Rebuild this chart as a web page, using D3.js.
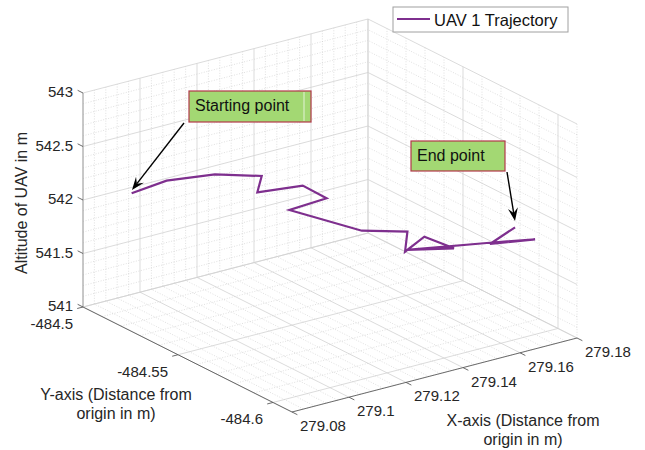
<!DOCTYPE html>
<html>
<head>
<meta charset="utf-8">
<script src="https://cdn.jsdelivr.net/npm/d3@7"></script>
<style>
  html, body { margin: 0; padding: 0; background: #fff; }
  svg { display: block; font-family: "Liberation Sans", Arial, Helvetica, sans-serif; }
</style>
</head>
<body>
<svg id="chart" width="645" height="450"></svg>
<script>
// UAV 1 trajectory samples (metres)
const trajX = [279.0860, 279.0938, 279.1046, 279.1151, 279.1141, 279.1243, 279.1296, 279.1213, 279.1375,
               279.1477, 279.1472, 279.1515, 279.1581, 279.1476, 279.1655, 279.1763, 279.1662, 279.1718];
const trajY = [-484.5166, -484.5233, -484.5325, -484.5414, -484.5406, -484.5492, -484.5538, -484.5467, -484.5605,
               -484.5692, -484.5687, -484.5724, -484.5781, -484.5691, -484.5843, -484.5935, -484.5849, -484.5897];
const trajZ = [542.170, 542.293, 542.360, 542.351, 542.198, 542.267, 542.153, 542.037, 541.855,
               541.853, 541.665, 541.809, 541.705, 541.682, 541.759, 541.801, 541.750, 541.910];

// axis limits and ticks
const xLim = [279.08, 279.18];
const yLim = [-484.61, -484.5];
const zLim = [541, 543];
const xTicks = [279.08, 279.1, 279.12, 279.14, 279.16, 279.18];
const yTicks = [-484.6, -484.55, -484.5];
const zTicks = [541, 541.5, 542, 542.5, 543];
const xTickLabels = ["279.08", "279.1", "279.12", "279.14", "279.16", "279.18"];
const yTickLabels = ["-484.6", "-484.55", "-484.5"];
const zTickLabels = ["541", "541.5", "542", "542.5", "543"];
const xMinorStep = 0.004, yMinorStep = 0.01, zMinorStep = 0.1;

const seriesName = "UAV 1 Trajectory";
const xTitle = ["X-axis (Distance from", "origin in m)"];
const yTitle = ["Y-axis (Distance from", "origin in m)"];
const zTitle = "Altitude of UAV in m";
const startNote = "Starting point";
const endNote = "End point";

const svg = d3.select("#chart");

// normalised box coordinates
const u = d3.scaleLinear().domain(xLim).range([0, 1]);
const v = d3.scaleLinear().domain(yLim).range([0, 1]);
const w = d3.scaleLinear().domain(zLim).range([0, 1]);

// oblique view: screen position of the (xmin, ymin, zmin) corner and unit box edges
const O = [292, 412], EX = [285, -74], EY = [-209, -105], EZ = [0, -214];
function P(a, b, c) { // a,b,c in [0,1]
  return [O[0] + EX[0] * a + EY[0] * b + EZ[0] * c,
          O[1] + EX[1] * a + EY[1] * b + EZ[1] * c];
}
const proj = (x, y, z) => P(u(x), v(y), w(z));

function steps(lim, step) {
  const n = Math.round((lim[1] - lim[0]) / step);
  return d3.range(n + 1).map(i => +(lim[0] + i * step).toFixed(6));
}
const isMajor = (val, ticks) => ticks.some(t => Math.abs(t - val) < 1e-6);

const gridG = svg.append("g");
function seg(g, a, b, major) {
  g.append("line")
    .attr("x1", a[0]).attr("y1", a[1]).attr("x2", b[0]).attr("y2", b[1])
    .attr("stroke", major ? "#d2d2d2" : "#cbcbcb")
    .attr("stroke-width", major ? 0.8 : 0.6)
    .attr("stroke-dasharray", major ? null : "1,1.6");
}

const xs = steps(xLim, xMinorStep), ys = steps(yLim, yMinorStep), zs = steps(zLim, zMinorStep);
const minorG = gridG.append("g"), majorG = gridG.append("g");

// floor (z = zmin)
xs.forEach(x => { const M = isMajor(x, xTicks); seg(M ? majorG : minorG, P(u(x), 0, 0), P(u(x), 1, 0), M); });
ys.forEach(y => { const M = isMajor(y, yTicks); seg(M ? majorG : minorG, P(0, v(y), 0), P(1, v(y), 0), M); });
// back-left wall (y = ymax)
xs.forEach(x => { const M = isMajor(x, xTicks); seg(M ? majorG : minorG, P(u(x), 1, 0), P(u(x), 1, 1), M); });
zs.forEach(z => { const M = isMajor(z, zTicks); seg(M ? majorG : minorG, P(0, 1, w(z)), P(1, 1, w(z)), M); });
// back-right wall (x = xmax)
ys.forEach(y => { const M = isMajor(y, yTicks); seg(M ? majorG : minorG, P(1, v(y), 0), P(1, v(y), 1), M); });
zs.forEach(z => { const M = isMajor(z, zTicks); seg(M ? majorG : minorG, P(1, 0, w(z)), P(1, 1, w(z)), M); });

// axis lines
const axG = svg.append("g").attr("stroke-width", 0.9).attr("fill", "none");
function axisLine(a, b, col) {
  axG.append("line").attr("x1", a[0]).attr("y1", a[1]).attr("x2", b[0]).attr("y2", b[1]).attr("stroke", col);
}
axisLine(P(0, 0, 0), P(1, 0, 0), "#5a5a5a");   // x axis
axisLine(P(0, 0, 0), P(0, 1, 0), "#5a5a5a");   // y axis
axisLine(P(0, 1, 0), P(0, 1, 1), "#9a9a9a");   // z axis

const unit = d => { const L = Math.hypot(d[0], d[1]); return [d[0] / L, d[1] / L]; };
const tickLen = 6;
const txtCol = "#262626";
const labG = svg.append("g").attr("fill", txtCol).attr("font-size", 15);

// x ticks
const xOut = unit([-EY[0], -EY[1]]);
xTicks.forEach((t, i) => {
  const p = P(u(t), 0, 0);
  axG.append("line").attr("x1", p[0]).attr("y1", p[1])
    .attr("x2", p[0] + xOut[0] * tickLen).attr("y2", p[1] + xOut[1] * tickLen).attr("stroke", "#5a5a5a");
  labG.append("text").attr("x", p[0] + 8).attr("y", p[1] + 19).text(xTickLabels[i]);
});
// y ticks
const yOut = unit([-EX[0], -EX[1]]);
yTicks.forEach((t, i) => {
  const p = P(0, v(t), 0);
  axG.append("line").attr("x1", p[0]).attr("y1", p[1])
    .attr("x2", p[0] + yOut[0] * tickLen).attr("y2", p[1] + yOut[1] * tickLen).attr("stroke", "#5a5a5a");
  labG.append("text").attr("x", p[0] - 10).attr("y", p[1] + 22).attr("text-anchor", "end").text(yTickLabels[i]);
});
// z ticks
const zOut = unit([EY[0], EY[1]]);
zTicks.forEach((t, i) => {
  const p = P(0, 1, w(t));
  axG.append("line").attr("x1", p[0]).attr("y1", p[1])
    .attr("x2", p[0] + zOut[0] * tickLen).attr("y2", p[1] + zOut[1] * tickLen).attr("stroke", "#5a5a5a");
  labG.append("text").attr("x", p[0] - 10).attr("y", p[1] + 4).attr("text-anchor", "end").text(zTickLabels[i]);
});

// axis titles
const titleG = svg.append("g").attr("fill", txtCol).attr("font-size", 16).attr("text-anchor", "middle");
titleG.append("text").attr("transform", "translate(27,203) rotate(-90)").text(zTitle);
yTitle.forEach((s, i) => titleG.append("text").attr("x", 116).attr("y", 400 + i * 19).text(s));
xTitle.forEach((s, i) => titleG.append("text").attr("x", 523).attr("y", 426 + i * 19).text(s));

// trajectory
const lineColor = "#7e2f8e";
const pts = trajX.map((x, i) => proj(x, trajY[i], trajZ[i]));
svg.append("path")
  .attr("d", d3.line()(pts))
  .attr("fill", "none").attr("stroke", lineColor).attr("stroke-width", 2.2)
  .attr("stroke-linejoin", "miter").attr("stroke-miterlimit", 4);

// annotation arrows
function arrow(from, to) {
  const g = svg.append("g");
  const d = unit([to[0] - from[0], to[1] - from[1]]);
  const n = [-d[1], d[0]];
  const L = 13, W = 5, notch = 8;
  g.append("line").attr("x1", from[0]).attr("y1", from[1])
    .attr("x2", to[0] - d[0] * notch).attr("y2", to[1] - d[1] * notch)
    .attr("stroke", "#000").attr("stroke-width", 1.4);
  const head = [
    to,
    [to[0] - d[0] * L + n[0] * W, to[1] - d[1] * L + n[1] * W],
    [to[0] - d[0] * notch, to[1] - d[1] * notch],
    [to[0] - d[0] * L - n[0] * W, to[1] - d[1] * L - n[1] * W]
  ];
  g.append("path").attr("d", "M" + head.map(p => p.join(",")).join("L") + "Z").attr("fill", "#000");
}
arrow([184, 123], [132, 190]);
arrow([507, 172], [515, 221]);

// annotation boxes
function note(x, y, wd, ht, txt) {
  const g = svg.append("g");
  g.append("rect").attr("x", x).attr("y", y).attr("width", wd).attr("height", ht)
    .attr("fill", "#a3d873").attr("stroke", "#b2394a").attr("stroke-width", 1.2);
  g.append("text").attr("x", x + 6).attr("y", y + 20).attr("font-size", 16).attr("fill", "#111").text(txt);
  return g;
}
const sn = note(189, 91, 122, 31, startNote);
sn.append("line").attr("x1", 304).attr("y1", 92).attr("x2", 304).attr("y2", 121)
  .attr("stroke", "#e4f3d8").attr("stroke-width", 1);
note(411, 141, 94, 30, endNote);

// legend
const lg = svg.append("g");
lg.append("rect").attr("x", 393).attr("y", 7).attr("width", 175).attr("height", 25)
  .attr("fill", "#fff").attr("stroke", "#a0a0a0").attr("stroke-width", 1);
lg.append("line").attr("x1", 397).attr("y1", 19).attr("x2", 430).attr("y2", 19)
  .attr("stroke", lineColor).attr("stroke-width", 2);
lg.append("text").attr("x", 434).attr("y", 26).attr("font-size", 16.5).attr("fill", "#111").text(seriesName);
</script>
</body>
</html>
